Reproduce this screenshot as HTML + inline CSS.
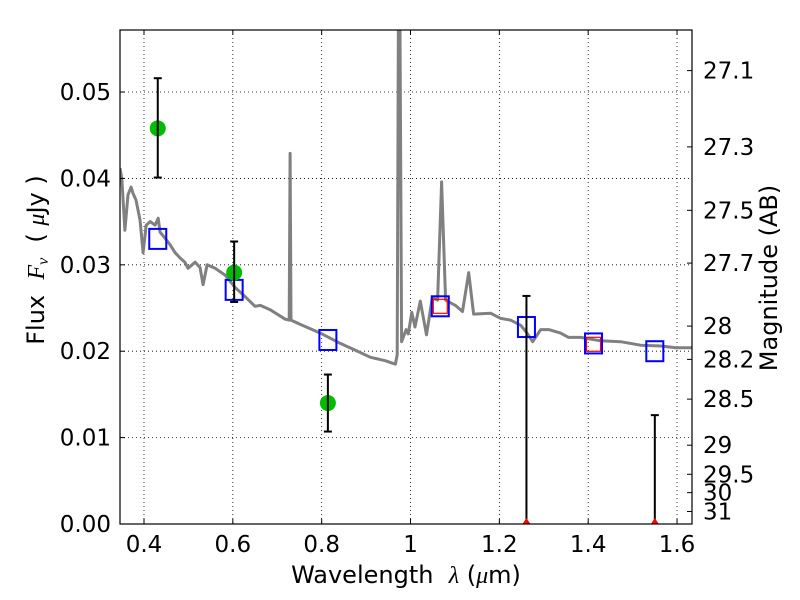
<!DOCTYPE html>
<html><head><meta charset="utf-8"><style>
html,body{margin:0;padding:0;background:#fff;}
svg{display:block;font-family:"DejaVu Sans","Liberation Sans",sans-serif;}
</style></head><body>
<svg id="chart" width="800" height="600" viewBox="0 0 800 600"></svg>
<script>
const specLambda=[0.346,0.350,0.357,0.364,0.371,0.375,0.382,0.391,0.398,0.405,0.414,0.425,0.432,0.436,0.447,0.459,0.470,0.481,0.492,0.499,0.515,0.526,0.533,0.542,0.560,0.583,0.605,0.628,0.650,0.662,0.684,0.718,0.727,0.729,0.731,0.752,0.797,0.842,0.876,0.910,0.943,0.966,0.970,0.973,0.976,0.980,0.990,0.995,1.003,1.010,1.022,1.036,1.049,1.061,1.070,1.079,1.101,1.117,1.131,1.142,1.180,1.203,1.225,1.248,1.261,1.275,1.293,1.311,1.338,1.356,1.383,1.428,1.473,1.518,1.564,1.597,1.636];
const specFlux=[0.0412,0.0400,0.0340,0.0381,0.0390,0.0383,0.0375,0.0352,0.0314,0.0346,0.0350,0.0346,0.0354,0.0338,0.0331,0.0323,0.0314,0.0308,0.0303,0.0296,0.0303,0.0297,0.0277,0.0300,0.0296,0.0288,0.0274,0.0263,0.0252,0.0253,0.0248,0.0237,0.0236,0.0429,0.0236,0.0231,0.0221,0.0209,0.0201,0.0193,0.0189,0.0185,0.0196,0.062,0.062,0.0211,0.0225,0.0220,0.0245,0.0228,0.0258,0.0219,0.0262,0.0259,0.0396,0.0259,0.0253,0.0246,0.0291,0.0243,0.0244,0.0238,0.0236,0.0230,0.0222,0.0211,0.0225,0.0225,0.0221,0.0216,0.0216,0.0212,0.0211,0.0207,0.0206,0.0204,0.0204];
const obsLambda=[0.431,0.603,0.814];
const obsFlux=[0.0458,0.0291,0.0140];
const obsLo=[0.0401,0.0257,0.0107];
const obsHi=[0.0516,0.0327,0.0173];
const modelLambda=[0.431,0.603,0.814,1.067,1.261,1.412,1.550];
const modelFlux=[0.0330,0.0271,0.0213,0.0252,0.0228,0.0209,0.0200];
const redLambda=[1.067,1.412];
const redFlux=[0.0252,0.0208];
const limLambda=[1.261,1.550];
const limHi=[0.0264,0.0126];
const xTicks=[0.4,0.6,0.8,1.0,1.2,1.4,1.6];
const xTickLabels=["0.4","0.6","0.8","1","1.2","1.4","1.6"];
const yTicks=[0,0.01,0.02,0.03,0.04,0.05];
const yTickLabels=["0.00","0.01","0.02","0.03","0.04","0.05"];
const magTicks=[27.1,27.3,27.5,27.7,28,28.2,28.5,29,29.5,30,31];
const magTickLabels=["27.1","27.3","27.5","27.7","28","28.2","28.5","29","29.5","30","31"];

const L=120,R=692,T=30,B=524;
const xMin=0.346,xMax=1.6337,yMin=0,yMax=0.05718;
const sx=v=>L+(v-xMin)/(xMax-xMin)*(R-L);
const sy=v=>B-(v-yMin)/(yMax-yMin)*(B-T);
const NS="http://www.w3.org/2000/svg";
const svg=document.getElementById('chart');
function mk(tag,attrs,parent){const e=document.createElementNS(NS,tag);for(const k in attrs)e.setAttribute(k,attrs[k]);(parent||svg).appendChild(e);return e;}

const defs=mk('defs',{});
const cp=mk('clipPath',{id:'clip'},defs);
mk('rect',{x:L,y:T,width:R-L,height:B-T},cp);

const grid=mk('g',{});


xTicks.forEach(v=>{mk('line',{x1:sx(v),x2:sx(v),y1:T,y2:B,stroke:'#000','stroke-width':0.8,'stroke-dasharray':'1,3'},grid);});
yTicks.forEach(v=>{if(v>0)mk('line',{x1:L,x2:R,y1:sy(v),y2:sy(v),stroke:'#000','stroke-width':0.8,'stroke-dasharray':'1,3'},grid);});

const plot=mk('g',{'clip-path':'url(#clip)'});
const sp=mk('path',{d:specLambda.map((l,i)=>(i?'L':'M')+sx(l).toFixed(1)+','+sy(specFlux[i]).toFixed(1)).join(''),fill:'none',stroke:'#808080','stroke-width':3,'stroke-linejoin':'round'},plot);



modelLambda.forEach((l,i)=>{
  const r=mk('rect',{x:sx(l)-8.5,y:sy(modelFlux[i])-10,width:17,height:20,fill:'none',stroke:'#0000ff','stroke-width':2},plot);
  
  
});
redLambda.forEach((l,i)=>{
  const r=mk('rect',{x:sx(l)-7,y:sy(redFlux[i])-7,width:14,height:14,fill:'none',stroke:'#ff0000','stroke-width':1.2},plot);
  
  
});
limLambda.forEach((l,i)=>{
  const g=mk('g',{},plot);
  
  
  const x=sx(l);
  mk('line',{x1:x,x2:x,y1:sy(0),y2:sy(limHi[i]),stroke:'#000','stroke-width':2},g);
  mk('line',{x1:x-4,x2:x+4,y1:sy(limHi[i]),y2:sy(limHi[i]),stroke:'#000','stroke-width':2},g);
  mk('polygon',{points:`${x-4},${sy(0)} ${x+4},${sy(0)} ${x},${sy(0)-6}`,fill:'#ff0000'},g);
});
obsLambda.forEach((l,i)=>{
  const g=mk('g',{},plot);
  
  
  const x=sx(l);
  mk('circle',{cx:x,cy:sy(obsFlux[i]),r:8,fill:'#00bb00'},g);
  mk('line',{x1:x,x2:x,y1:sy(obsLo[i]),y2:sy(obsHi[i]),stroke:'#000','stroke-width':2},g);
  mk('line',{x1:x-4,x2:x+4,y1:sy(obsLo[i]),y2:sy(obsLo[i]),stroke:'#000','stroke-width':2},g);
  mk('line',{x1:x-4,x2:x+4,y1:sy(obsHi[i]),y2:sy(obsHi[i]),stroke:'#000','stroke-width':2},g);
});

const fr=mk('rect',{x:L,y:T,width:R-L,height:B-T,fill:'none',stroke:'#000','stroke-width':1.2});



xTicks.forEach((v,i)=>{
  const x=sx(v);
  mk('line',{x1:x,x2:x,y1:B,y2:B-5,stroke:'#000'});
  mk('line',{x1:x,x2:x,y1:T,y2:T+5,stroke:'#000'});
  const t=mk('text',{x:x,y:B+28,'text-anchor':'middle','font-size':23});
  t.textContent=xTickLabels[i];
  
  
});
yTicks.forEach((v,i)=>{
  const y=sy(v);
  mk('line',{x1:L,x2:L+5,y1:y,y2:y,stroke:'#000'});
  const t=mk('text',{x:L-9,y:y+8,'text-anchor':'end','font-size':23});
  t.textContent=yTickLabels[i];
  
  
});
magTicks.forEach((m,i)=>{
  const f=Math.pow(10,(23.9-m)/2.5);
  const y=sy(f);
  mk('line',{x1:R-5,x2:R,y1:y,y2:y,stroke:'#000'});
  const t=mk('text',{x:R+11,y:y+8,'text-anchor':'start','font-size':23});
  t.textContent=magTickLabels[i];
  
  
});

const xt=mk('text',{x:406,y:583,'text-anchor':'middle','font-size':24});
xt.innerHTML='Wavelength &#160;<tspan font-family="Liberation Serif,serif" font-style="italic">λ</tspan> (<tspan font-family="Liberation Serif,serif" font-style="italic">μ</tspan>m)';


const yt=mk('text',{x:0,y:0,'text-anchor':'middle','font-size':24,transform:'translate(44,260) rotate(-90)'});
yt.innerHTML='Flux &#160;<tspan font-family="Liberation Serif,serif" font-style="italic">F<tspan font-size="16" dy="4">ν</tspan></tspan><tspan dy="-4"> &#160;( </tspan><tspan font-family="Liberation Serif,serif" font-style="italic">μ</tspan>Jy )';


const rt=mk('text',{x:0,y:0,'text-anchor':'middle','font-size':24,transform:'translate(777,278) rotate(-90)'});
rt.textContent='Magnitude (AB)';


</script>
</body></html>
